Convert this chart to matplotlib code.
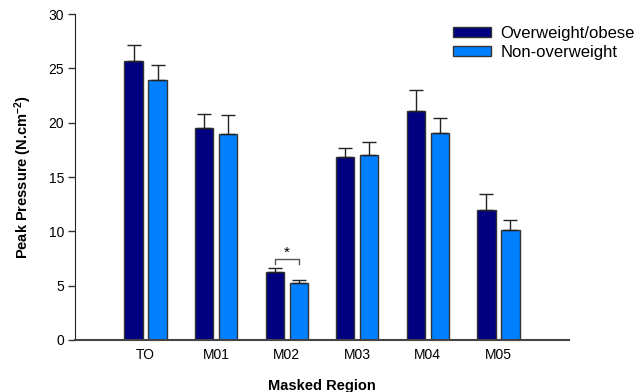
import numpy as np
import matplotlib.pyplot as plt

plt.rcParams['font.family'] = ['Liberation Sans', 'DejaVu Sans']
plt.rcParams['mathtext.default'] = 'regular'

regions = ['TO', 'M01', 'M02', 'M03', 'M04', 'M05']
overweight = [25.7, 19.5, 6.3, 16.8, 21.1, 12.0]
overweight_err = [1.5, 1.3, 0.3, 0.9, 1.9, 1.4]
normal = [23.9, 19.0, 5.2, 17.0, 19.1, 10.1]
normal_err = [1.4, 1.7, 0.3, 1.2, 1.3, 0.9]

fig = plt.figure(figsize=(6.44, 3.92), dpi=100)
ax = fig.add_axes([0.1165, 0.1327, 0.767, 0.8313])

x = np.arange(1, len(regions) + 1)
w = 0.26
off = 0.17
ax.bar(x - off, overweight, w, color='#000080', edgecolor='#333333', linewidth=1,
       yerr=[np.zeros(len(x)), overweight_err], error_kw=dict(ecolor='#222222', capsize=5, elinewidth=1, capthick=1),
       label='Overweight/obese', zorder=2)
ax.bar(x + off, normal, w, color='#0080FF', edgecolor='#333333', linewidth=1,
       yerr=[np.zeros(len(x)), normal_err], error_kw=dict(ecolor='#222222', capsize=5, elinewidth=1, capthick=1),
       label='Non-overweight', zorder=2)

# significance bracket on M02
bx0, bx1 = 3 - off, 3 + off
ax.plot([bx0, bx0, bx1, bx1], [7.0, 7.45, 7.45, 7.0], color='#555555', lw=1)
ax.text(3, 7.4, '*', ha='center', va='bottom', fontsize=11)

ax.set_xlim(0, 7)
ax.set_ylim(0, 30)
ax.set_xticks(x)
ax.set_xticklabels(regions, fontsize=10)
ax.set_yticks(np.arange(0, 31, 5))
ax.tick_params(axis='y', labelsize=10, length=5, width=1, direction='out', color='#333333', pad=3)
ax.tick_params(axis='x', length=0, pad=6)
for s in ['top', 'right']:
    ax.spines[s].set_visible(False)
ax.spines['left'].set_color('#222222')
ax.spines['bottom'].set_color('#444444')
ax.spines['bottom'].set_linewidth(1.5)

ax.set_xlabel('Masked Region', fontsize=10.5, fontweight='bold', labelpad=12)
ax.set_ylabel('Peak Pressure (N.cm$^{-2}$)', fontsize=10.5, fontweight='bold', labelpad=10)

fig.legend(loc='upper left', bbox_to_anchor=(453 / 644, 1 - 26 / 392), frameon=False, fontsize=12,
           borderpad=0, borderaxespad=0, handlelength=2.3, handleheight=0.6,
           handletextpad=0.55, labelspacing=0.22)

plt.savefig('out.png', dpi=100)
